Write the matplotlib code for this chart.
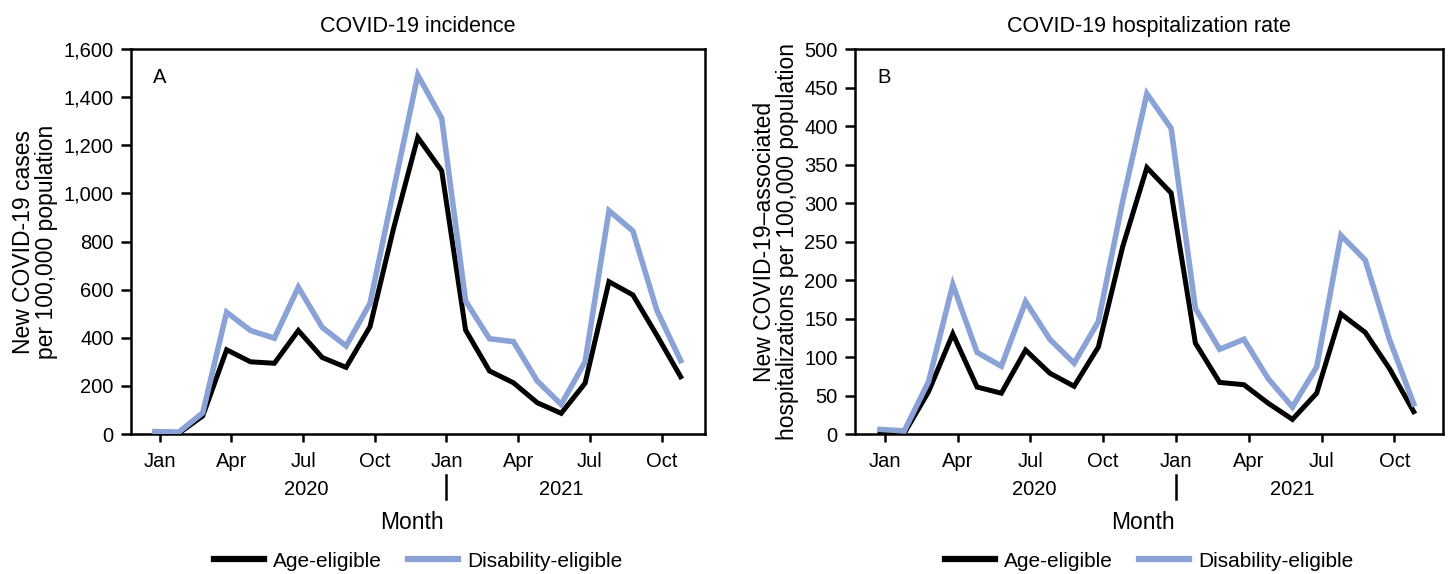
"""COVID-19 incidence and hospitalization rate, age- vs disability-eligible, Jan 2020 - Nov 2021."""

import matplotlib

matplotlib.use("Agg")
import matplotlib.pyplot as plt
import matplotlib.transforms as mtransforms
from matplotlib.ticker import FuncFormatter

plt.rcParams["font.family"] = ["Liberation Sans", "DejaVu Sans"]

# monthly values, Jan 2020 .. Nov 2021
months = list(range(23))
tick_labels = ["Jan", "Apr", "Jul", "Oct", "Jan", "Apr", "Jul", "Oct"]
tick_months = [0, 3, 6, 9, 12, 15, 18, 21]
years = ["2020", "2021"]

incidence_age = [2, 3, 75, 350, 300, 294, 430, 318, 277, 446, 860, 1233, 1094,
                 432, 262, 213, 130, 86, 211, 633, 578, 411, 238]
incidence_dis = [10, 8, 88, 506, 430, 398, 610, 443, 366, 543, 1020, 1492, 1312,
                 553, 396, 384, 220, 123, 300, 928, 844, 515, 305]

hosp_age = [2, 1, 55, 130, 61, 53, 109, 79, 62, 113, 243, 346, 313,
            118, 67, 64, 40, 19, 53, 156, 132, 85, 29]
hosp_dis = [6, 4, 68, 194, 106, 88, 172, 123, 92, 146, 302, 442, 397,
            163, 110, 123, 72, 35, 87, 258, 226, 123, 39]

BLACK = "#000000"
BLUE = "#8aa2d6"


def draw_panel(ax, age, dis, ymax, ystep, letter, title, ylabel, xlim):
    ax.plot(months, age, color=BLACK, lw=3.6, label="Age-eligible",
            solid_joinstyle="miter", zorder=3)
    ax.plot(months, dis, color=BLUE, lw=4.0, label="Disability-eligible",
            solid_joinstyle="miter", zorder=4)
    ax.set_xlim(*xlim)
    ax.set_ylim(0, ymax)
    ax.set_yticks(range(0, ymax + 1, ystep))
    ax.yaxis.set_major_formatter(FuncFormatter(lambda v, _: f"{int(v):,}"))
    ax.set_xticks([m + 0.2 for m in tick_months])
    ax.set_xticklabels(tick_labels)
    for s in ax.spines.values():
        s.set_linewidth(1.8)
    ax.tick_params(axis="x", length=6, width=1.8, pad=7, labelsize=14.5)
    ax.tick_params(axis="y", length=7.5, width=1.8, pad=5, labelsize=14.5)

    ax.set_title(title, fontsize=15.5, pad=12)
    ax.set_ylabel(ylabel, fontsize=16.5, labelpad=4, linespacing=1.0)
    ax.text(0.038, 0.95, letter, transform=ax.transAxes, fontsize=14.5,
            ha="left", va="top")

    # year labels and separator under the month ticks
    trans = mtransforms.blended_transform_factory(ax.transData, ax.transAxes)
    ax.text(6.35, -0.145, years[0], transform=trans, ha="center", va="center",
            fontsize=14.5)
    ax.text(17.0, -0.145, years[1], transform=trans, ha="center", va="center",
            fontsize=14.5)
    ax.plot([12.2, 12.2], [-0.106, -0.17], transform=trans, color=BLACK,
            lw=1.8, clip_on=False)
    ax.text(0.49, -0.229, "Month", transform=ax.transAxes, ha="center",
            va="center", fontsize=16.5)

    ax.legend(loc="center", bbox_to_anchor=(0.5, -0.33), ncol=2, frameon=False,
              fontsize=15, handlelength=2.4, handletextpad=0.45,
              columnspacing=1.25)
    for line in ax.get_legend().get_lines():
        line.set_linewidth(4.5)


def main():
    fig = plt.figure(figsize=(14.48, 5.74), dpi=100)
    ax1 = fig.add_axes([0.0905, 0.2439, 0.3964, 0.6707])
    ax2 = fig.add_axes([0.5905, 0.2439, 0.4061, 0.6707])

    draw_panel(ax1, incidence_age, incidence_dis, 1600, 200, "A",
               "COVID-19 incidence",
               "New COVID-19 cases\nper 100,000 population", (-1.0, 23.02))
    draw_panel(ax2, hosp_age, hosp_dis, 500, 50, "B",
               "COVID-19 hospitalization rate",
               "New COVID-19\u2013associated\nhospitalizations per 100,000 population",
               (-1.03, 23.21))

    fig.savefig("out.png", dpi=100)
    plt.close(fig)


if __name__ == "__main__":
    main()
